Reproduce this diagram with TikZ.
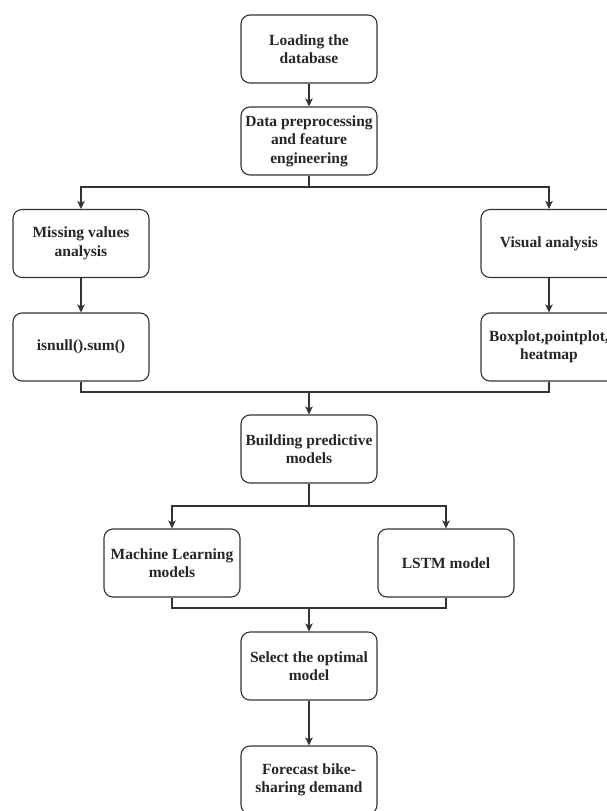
\documentclass[tikz,border=0pt]{standalone}
\usepackage{fontspec}
\setmainfont{Liberation Serif}
\usepackage{tikz}
\usetikzlibrary{arrows.meta, positioning, calc}
\definecolor{linegray}{RGB}{51, 51, 51}

\begin{document}
\begin{tikzpicture}[x=1pt, y=1pt,
    stepbox/.style={draw=linegray, line width=1.1pt, rounded corners=9pt, fill=white,
      minimum width=136pt, minimum height=68pt, inner sep=2pt, align=center,
      font=\fontsize{15.5}{18.5}\selectfont\bfseries, text=black!85},
    flow/.style={draw=linegray, line width=1.1pt},
    arr/.style={flow, -{Stealth[length=8pt, width=7.5pt, inset=2pt]}}]
  \clip (0,0) rectangle (607,-811);
  \fill[white] (0,0) rectangle (607,-811);

  % Loading and preprocessing
  \node[stepbox] (load) at (309,-49) {Loading the\\database};
  \node[stepbox] (prep) at (309,-141) {Data preprocessing\\and feature\\engineering};

  % Two analysis branches
  \node[stepbox] (miss) at (81,-243.5) {Missing values\\analysis};
  \node[stepbox] (nul) at (81,-347) {isnull().sum()};
  \node[stepbox] (vis) at (549,-243.5) {Visual analysis};
  \node[stepbox] (plots) at (549,-347) {Boxplot,pointplot,\\heatmap};

  % Models
  \node[stepbox] (build) at (309,-449) {Building predictive\\models};
  \node[stepbox] (ml) at (172,-563) {Machine Learning\\models};
  \node[stepbox] (lstm) at (446,-563) {LSTM model};
  \node[stepbox] (sel) at (309,-666) {Select the optimal\\model};
  \node[stepbox] (fcst) at (309,-780) {Forecast bike-\\sharing demand};

  % Junctions
  \coordinate (s1) at (309,-187);
  \coordinate (m1) at (309,-392);
  \coordinate (s2) at (309,-506);
  \coordinate (m2) at (309,-608);

  % Connectors
  \draw[arr] (load) -- (prep);
  \draw[flow] (prep) -- (s1);
  \draw[arr] (s1) -| (miss);
  \draw[arr] (s1) -| (vis);
  \draw[arr] (miss) -- (nul);
  \draw[arr] (vis) -- (plots);
  \draw[flow] (nul.south) |- (m1) -| (plots.south);
  \draw[arr] (m1) -- (build);
  \draw[flow] (build) -- (s2);
  \draw[arr] (s2) -| (ml);
  \draw[arr] (s2) -| (lstm);
  \draw[flow] (ml.south) |- (m2) -| (lstm.south);
  \draw[arr] (m2) -- (sel);
  \draw[arr] (sel) -- (fcst);
\end{tikzpicture}
\end{document}
